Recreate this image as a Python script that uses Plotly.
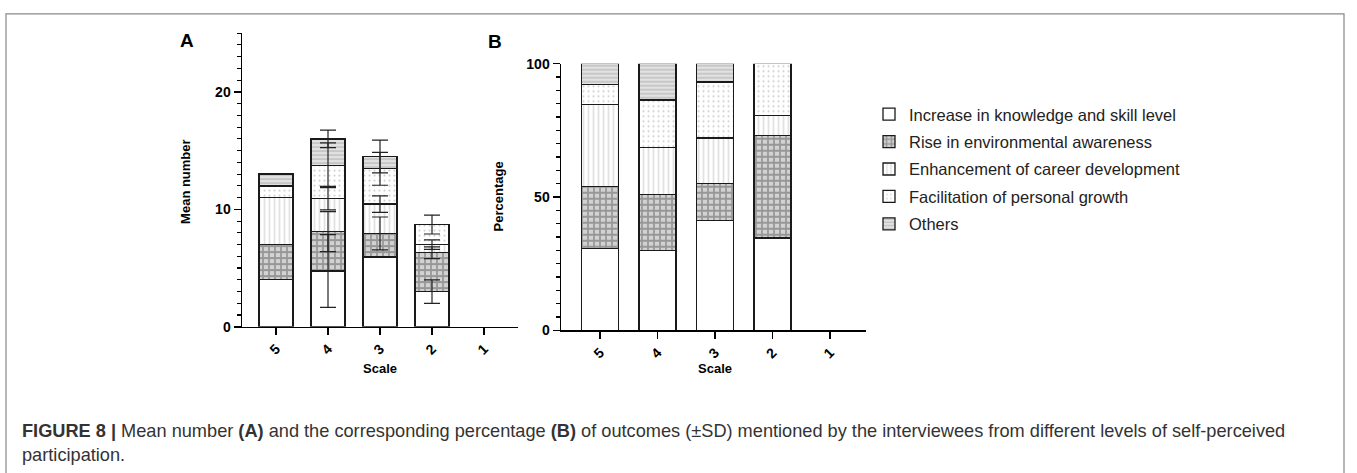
import numpy as np
import plotly.graph_objects as go

W, H = 1357, 473

scale = ["5", "4", "3", "2", "1"]
series = [
    "Increase in knowledge and skill level",
    "Rise in environmental awareness",
    "Enhancement of career development",
    "Facilitation of personal growth",
    "Others",
]

# Panel A: mean number of outcomes per segment
mean_knowledge = [4.0, 4.75, 5.95, 3.0, 0.0]
mean_rise = [3.0, 3.35, 2.0, 3.3, 0.0]
mean_career = [4.0, 2.85, 2.5, 0.7, 0.0]
mean_personal = [1.0, 2.8, 3.0, 1.7, 0.0]
mean_others = [1.0, 2.25, 1.05, 0.0, 0.0]

# Panel A: SD (None = no error bar drawn)
sd_knowledge = [None, 3.1, None, 1.0, None]
sd_rise = [None, 1.7, 1.4, 0.5, None]
sd_career = [None, 1.0, 0.7, 0.4, None]
sd_personal = [None, 1.9, 1.4, 0.8, None]
sd_others = [None, 0.75, 1.4, None, None]

# Panel B: percentages
pct_knowledge = [30.6, 30.0, 41.1, 34.7, 0.0]
pct_rise = [23.3, 20.9, 14.0, 38.3, 0.0]
pct_career = [30.7, 17.7, 17.1, 7.7, 0.0]
pct_personal = [7.6, 17.8, 20.9, 19.3, 0.0]
pct_others = [7.8, 13.6, 6.9, 0.0, 0.0]

means = [mean_knowledge, mean_rise, mean_career, mean_personal, mean_others]
sds = [sd_knowledge, sd_rise, sd_career, sd_personal, sd_others]
pcts = [pct_knowledge, pct_rise, pct_career, pct_personal, pct_others]

patterns = [
    dict(shape=""),
    dict(shape="+", fgcolor="#5c5c5c", bgcolor="#d2d2d2", size=6, solidity=0.5),
    dict(shape="|", fgcolor="#c4c4c4", bgcolor="white", size=5, solidity=0.35),
    dict(shape=".", fgcolor="#9a9a9a", bgcolor="white", size=5, solidity=0.14),
    dict(shape="-", fgcolor="#959595", bgcolor="#e2e2e2", size=4, solidity=0.35),
]

BOLD = dict(family="Liberation Sans, Arial", size=14, color="black", weight="bold")


def line_widths(vals):
    return [1.3 if v > 0 else 0 for v in vals]


fig = go.Figure()
for i, name in enumerate(series):
    fig.add_trace(go.Bar(
        x=scale, y=means[i], name=name, width=0.654,
        marker=dict(color="white", line=dict(color="#1a1a1a", width=line_widths(means[i])),
                    pattern=patterns[i]),
        xaxis="x", yaxis="y", showlegend=True, legendgroup=f"g{i}",
    ))
for i, name in enumerate(series):
    fig.add_trace(go.Bar(
        x=scale, y=pcts[i], name=name, width=0.64,
        marker=dict(color="white", line=dict(color="#1a1a1a", width=line_widths(pcts[i])),
                    pattern=patterns[i]),
        xaxis="x2", yaxis="y2", showlegend=False, legendgroup=f"g{i}",
    ))

# error bars drawn at the top of each stacked segment
cum = np.cumsum(np.array(means, dtype=float), axis=0)
for i in range(len(series)):
    yv = [cum[i][j] if sds[i][j] is not None else None for j in range(len(scale))]
    ev = [sds[i][j] if sds[i][j] is not None else 0 for j in range(len(scale))]
    fig.add_trace(go.Scatter(
        x=scale, y=yv, mode="markers", marker=dict(size=1, color="rgba(0,0,0,0)"),
        error_y=dict(type="data", array=ev, visible=True, color="#222", thickness=1.2, width=8),
        xaxis="x", yaxis="y", showlegend=False, hoverinfo="skip",
    ))


def px(x):
    return x / W


def py(y):
    return 1 - y / H


axis_common = dict(
    showline=True, linecolor="black", linewidth=1.5, ticks="outside", tickwidth=1.5,
    ticklen=7, tickcolor="black", showgrid=False, zeroline=False, tickfont=BOLD,
)

fig.update_layout(
    width=W, height=H, margin=dict(l=0, r=0, t=0, b=0),
    paper_bgcolor="white", plot_bgcolor="white", barmode="stack", bargap=0,
    xaxis=dict(domain=[px(242), px(518)], anchor="y", type="category",
               range=[-0.654, 4.654], tickangle=-45, **axis_common),
    yaxis=dict(domain=[py(330), py(26)], anchor="x", range=[0, 25], tickvals=[0, 10, 20],
               minor=dict(dtick=1, ticks="outside", ticklen=4, tickcolor="black", tickwidth=1.2),
               **axis_common),
    xaxis2=dict(domain=[px(561), px(866)], anchor="y2", type="category",
                range=[-0.678, 4.626], tickangle=-45, **axis_common),
    yaxis2=dict(domain=[py(333.7), py(57.7)], anchor="x2", range=[0, 100], tickvals=[0, 50, 100],
                minor=dict(dtick=5, ticks="outside", ticklen=4, tickcolor="black", tickwidth=1.2),
                **axis_common),
    legend=dict(x=px(869), y=py(92), xanchor="left", yanchor="top",
                font=dict(family="Liberation Sans, Arial", size=16.5, color="#222"),
                tracegroupgap=3, traceorder="grouped", bgcolor="rgba(0,0,0,0)"),
    showlegend=True,
)

annos = [
    dict(text="<b>A</b>", x=px(186.5), y=py(34), size=19),
    dict(text="<b>B</b>", x=px(495.5), y=py(35), size=19),
    dict(text="<b>Scale</b>", x=px(380), y=py(373), size=13),
    dict(text="<b>Scale</b>", x=px(715), y=py(373), size=13),
]
for a in annos:
    fig.add_annotation(text=a["text"], x=a["x"], y=a["y"], xref="paper", yref="paper",
                       showarrow=False, xanchor="center", yanchor="middle",
                       font=dict(family="Liberation Sans, Arial", size=a["size"], color="black"))
for txt, x, y in [("<b>Mean number</b>", 186, 180), ("<b>Percentage</b>", 498, 195)]:
    fig.add_annotation(text=txt, x=px(x), y=py(y), xref="paper", yref="paper", showarrow=False,
                       textangle=-90, xanchor="center", yanchor="middle",
                       font=dict(family="Liberation Sans, Arial", size=13, color="black"))

cap_font = dict(family="Liberation Sans, Arial", size=18.2, color="#333")
fig.add_annotation(
    text="<b>FIGURE 8 |</b> Mean number <b>(A)</b> and the corresponding percentage <b>(B)</b> of outcomes "
         "(±SD) mentioned by the interviewees from different levels of self-perceived",
    x=px(20), y=py(438), xref="paper", yref="paper", showarrow=False, xanchor="left",
    yanchor="middle", font=cap_font)
fig.add_annotation(text="participation.", x=px(20), y=py(463), xref="paper", yref="paper",
                   showarrow=False, xanchor="left", yanchor="middle", font=cap_font)

fig.add_shape(type="rect", xref="paper", yref="paper", x0=px(6), x1=px(1344), y0=py(520), y1=py(6),
              line=dict(color="#888", width=1.2), fillcolor="rgba(0,0,0,0)", layer="below")

fig.write_html(
    "out.html",
    config={"displayModeBar": False, "staticPlot": True},
    post_script=(
        "document.documentElement.style.margin='0';document.documentElement.style.overflow='hidden';"
        "document.body.style.margin='0';document.body.style.overflow='hidden';"
    ),
)
